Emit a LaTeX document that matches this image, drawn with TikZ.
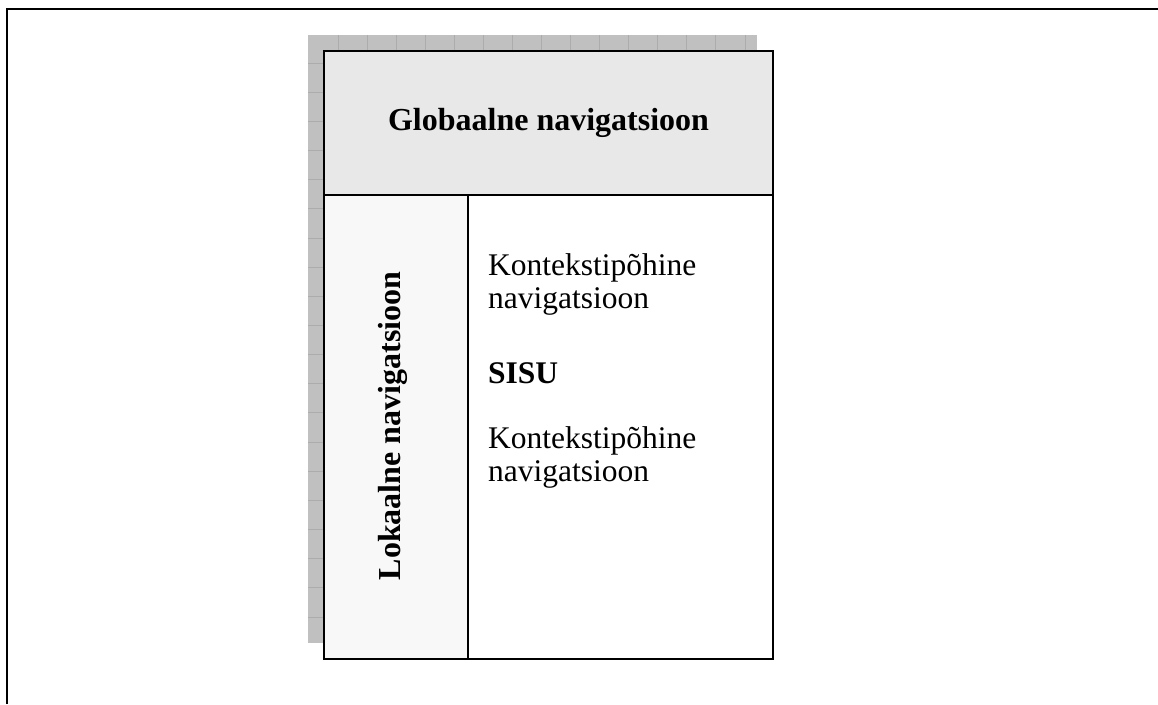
\documentclass[tikz,border=0pt]{standalone}
\usepackage{fontspec}
\setmainfont{Liberation Serif}
\definecolor{headfill}{HTML}{E8E8E8}
\definecolor{colfill}{HTML}{F8F8F8}
\definecolor{shadefill}{HTML}{C0C0C0}
\definecolor{shadegrid}{HTML}{ACACAC}
\begin{document}
\begin{tikzpicture}[x=1pt,y=-1pt,
  panel/.style={draw=black,line width=2pt,inner sep=0pt,outer sep=0pt},
  bigbold/.style={font=\fontsize{32}{34}\selectfont\bfseries,inner sep=0pt},
  bodytext/.style={font=\fontsize{31.5}{33}\selectfont,inner sep=0pt,anchor=base west},
  gridline/.style={draw=shadegrid,line width=0.9pt}]
\useasboundingbox (0,0) rectangle (1158,704);

% page frame: top and left rules
\draw[line width=2pt] (7,704) -- (7,8.5) -- (1158,8.5);

% tiled drop shadow behind the layout
\fill[shadefill] (308,35) rectangle (757,643);
\begin{scope}
  \clip (308,35) rectangle (757,643);
  \foreach \i in {0,...,14}
    \draw[gridline] ({338+29.07*\i},35) -- ++(0,608);
  \foreach \j in {0,...,20}
    \draw[gridline] (308,{63+29.16*\j}) -- ++(449,0);
\end{scope}

% layout panels
\node[panel,fill=headfill,minimum width=449pt,minimum height=144pt] (header) at (548.5,123) {};
\node[panel,fill=colfill,minimum width=144pt,minimum height=464pt] (local) at (396,427) {};
\node[panel,fill=white,minimum width=305pt,minimum height=464pt] (content) at (620.5,427) {};

% labels
\node[bigbold] (globtxt) at (header.center) {Globaalne navigatsioon};
\node[bigbold,rotate=90] (loctxt) at (393,426) {Lokaalne navigatsioon};

\node[bodytext] (ctxa1) at (488,275) {Kontekstipõhine};
\node[bodytext] (ctxa2) at (488,308) {navigatsioon};
\node[bodytext,font=\fontsize{31.5}{33}\selectfont\bfseries] (sisu) at (488,383) {SISU};
\node[bodytext] (ctxb1) at (488,448) {Kontekstipõhine};
\node[bodytext] (ctxb2) at (488,481) {navigatsioon};
\end{tikzpicture}
\end{document}
